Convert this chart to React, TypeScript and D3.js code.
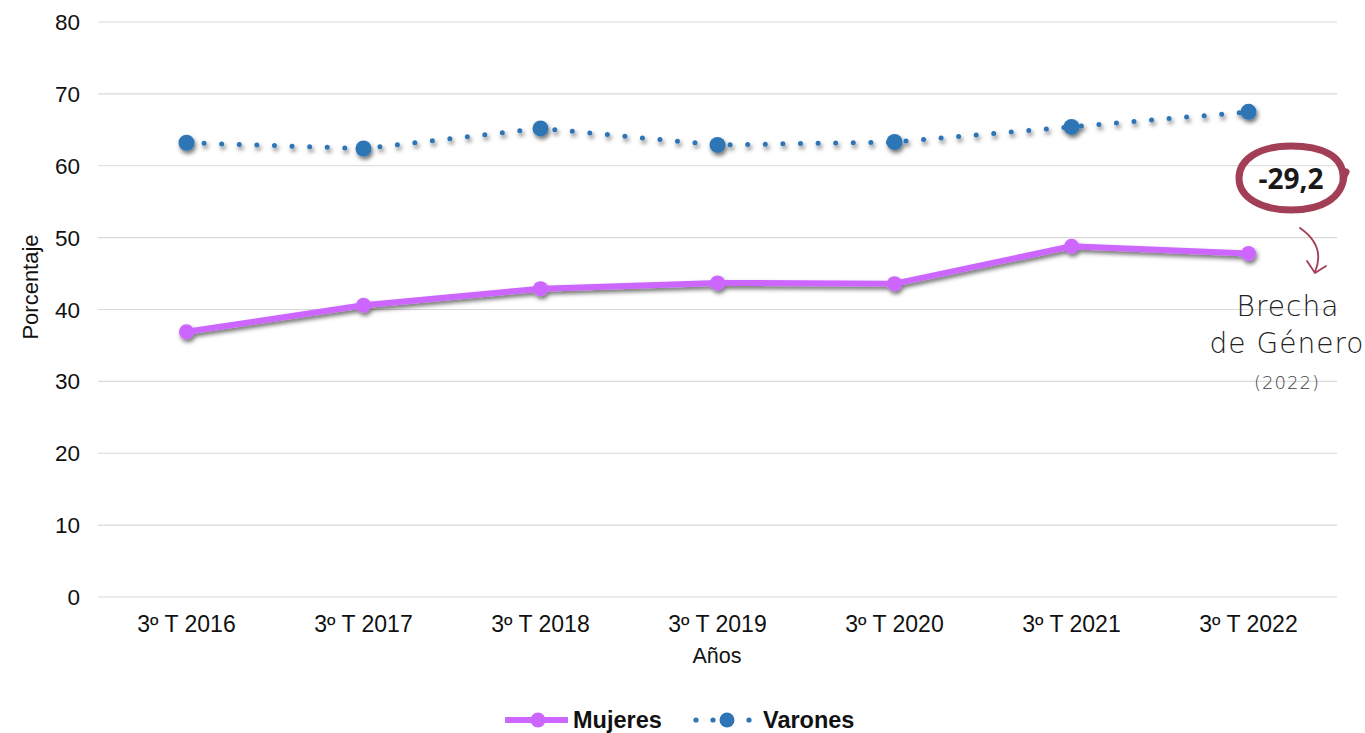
import React from "react";
import * as d3 from "d3";

const categories = ["3º T 2016", "3º T 2017", "3º T 2018", "3º T 2019", "3º T 2020", "3º T 2021", "3º T 2022"];
const mujeres = [36.9, 40.6, 42.9, 43.7, 43.6, 48.8, 47.8];
const varones = [63.2, 62.4, 65.2, 62.9, 63.3, 65.4, 67.5];
const yTicks = [0, 10, 20, 30, 40, 50, 60, 70, 80];
const gapLabel = "-29,2";

const W = 1365, H = 733;
const FONT = "'Liberation Sans', Arial, sans-serif";
const PURPLE = "#CC66FF";
const BLUE = "#2E75B6";
const MAROON = "#A23E55";

export default function App() {
  const x = d3.scaleBand<string>().domain(categories).range([98, 1337]);
  const y = d3.scaleLinear().domain([0, 80]).range([597, 22]);
  const cx = (c: string) => (x(c) as number) + x.bandwidth() / 2;
  const line = d3.line<number>().x((_, i) => cx(categories[i])).y((d) => y(d));

  return (
    <svg width={W} height={H} style={{ position: "absolute", left: 0, top: 0, background: "#fff" }} fontFamily={FONT}>
      <defs>
        <filter id="shadow" x="-20%" y="-50%" width="140%" height="200%">
          <feDropShadow dx="1.5" dy="3" stdDeviation="2" floodColor="#000" floodOpacity="0.55" />
        </filter>
      </defs>
      {yTicks.map((t) => (
        <g key={t}>
          <line x1={98} x2={1337} y1={y(t)} y2={y(t)} stroke="#d9d9d9" strokeWidth={1.2} />
          <text x={80} y={y(t)} dy="0.36em" textAnchor="end" fontSize={22.5} fill="#111">{t}</text>
        </g>
      ))}
      {categories.map((c) => (
        <text key={c} x={cx(c)} y={632} textAnchor="middle" fontSize={23} fill="#111">{c}</text>
      ))}
      <text x={717} y={663} textAnchor="middle" fontSize={21.5} fill="#111">Años</text>
      <text transform="translate(38,287) rotate(-90)" textAnchor="middle" fontSize={22} fill="#111">Porcentaje</text>

      {/* Varones */}
      <g filter="url(#shadow)">
        <path d={line(varones) || ""} fill="none" stroke={BLUE} strokeWidth={5} strokeLinecap="round" strokeDasharray="0 17.6" />
        {varones.map((v, i) => (
          <circle key={i} cx={cx(categories[i])} cy={y(v)} r={8} fill={BLUE} />
        ))}
      </g>
      {/* Mujeres */}
      <g filter="url(#shadow)">
        <path d={line(mujeres) || ""} fill="none" stroke={PURPLE} strokeWidth={6} strokeLinejoin="round" />
        {mujeres.map((v, i) => (
          <circle key={i} cx={cx(categories[i])} cy={y(v)} r={7.5} fill={PURPLE} />
        ))}
      </g>

      {/* Annotation */}
      <path d="M1343,180 C1345,155 1320,146 1291,146 C1258,146 1239,160 1239,178 C1239,198 1262,210 1291,210 C1322,210 1342,198 1344,176 L1346,172"
        fill="none" stroke={MAROON} strokeWidth={7} strokeLinecap="round" />
      <text x={1291} y={189} textAnchor="middle" fontSize={28} fontWeight="bold" fill="#1a1a1a" fontFamily="'Open Sans', 'Noto Sans', sans-serif">{gapLabel}</text>
      <path d="M1300,228 Q1326,246 1315,272" fill="none" stroke={MAROON} strokeWidth={1.8} strokeLinecap="round" />
      <path d="M1307,261 L1315,273 L1326,266" fill="none" stroke={MAROON} strokeWidth={1.8} strokeLinecap="round" strokeLinejoin="round" />
      <text x={1288} y={316} textAnchor="middle" fontSize={28} fill="#222" fontFamily="'DejaVu Sans', sans-serif" fontWeight={200} letterSpacing="1">Brecha</text>
      <text x={1287} y={353} textAnchor="middle" fontSize={28} fill="#222" fontFamily="'DejaVu Sans', sans-serif" fontWeight={200} letterSpacing="1">de Género</text>
      <text x={1287} y={389} textAnchor="middle" fontSize={18} fill="#444" fontFamily="'DejaVu Sans', sans-serif" fontWeight={200} letterSpacing="1">(2022)</text>

      {/* Legend */}
      <line x1={505} x2={568} y1={720} y2={720} stroke={PURPLE} strokeWidth={6} />
      <circle cx={538} cy={720} r={7.5} fill={PURPLE} />
      <text x={573} y={720} dy="0.36em" fontSize={23.5} fontWeight="bold" fill="#111">Mujeres</text>
      {[696, 713, 749].map((px) => (
        <circle key={px} cx={px} cy={720} r={2.6} fill={BLUE} />
      ))}
      <circle cx={727} cy={720} r={7.5} fill={BLUE} />
      <text x={763} y={720} dy="0.36em" fontSize={23.5} fontWeight="bold" fill="#111">Varones</text>
    </svg>
  );
}
